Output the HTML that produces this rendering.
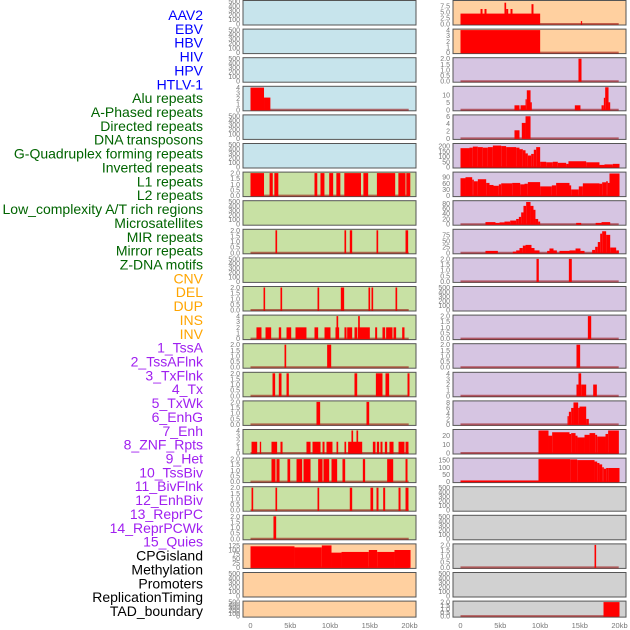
<!DOCTYPE html>
<html><head><meta charset="utf-8"><style>
html,body{margin:0;padding:0;background:#fff;width:630px;height:630px;overflow:hidden}
svg{display:block;font-family:"Liberation Sans",sans-serif}
</style></head><body>
<svg id="chart" width="630" height="630" viewBox="0 0 630 630"></svg>
<script>
const labelNames=["AAV2","EBV","HBV","HIV","HPV","HTLV-1","Alu repeats","A-Phased repeats","Directed repeats","DNA transposons","G-Quadruplex forming repeats","Inverted repeats","L1 repeats","L2 repeats","Low_complexity A/T rich regions","Microsatellites","MIR repeats","Mirror repeats","Z-DNA motifs","CNV","DEL","DUP","INS","INV","1_TssA","2_TssAFlnk","3_TxFlnk","4_Tx","5_TxWk","6_EnhG","7_Enh","8_ZNF_Rpts","9_Het","10_TssBiv","11_BivFlnk","12_EnhBiv","13_ReprPC","14_ReprPCWk","15_Quies","CPGisland","Methylation","Promoters","ReplicationTiming","TAD_boundary"];
const labelColors=["#0000ff","#0000ff","#0000ff","#0000ff","#0000ff","#0000ff","#006400","#006400","#006400","#006400","#006400","#006400","#006400","#006400","#006400","#006400","#006400","#006400","#006400","#ffa500","#ffa500","#ffa500","#ffa500","#ffa500","#a020f0","#a020f0","#a020f0","#a020f0","#a020f0","#a020f0","#a020f0","#a020f0","#a020f0","#a020f0","#a020f0","#a020f0","#a020f0","#a020f0","#a020f0","#000","#000","#000","#000","#000"];
const xTicks=[0,5,10,15,20];
const xTickLabels=["0","5kb","10kb","15kb","20kb"];
const ticksEmpty=["0","100","200","300","400","500"];
const ticks2=["0.0","0.5","1.0","1.5","2.0"];
const ticks4=["0","1","2","3","4"];
// segments: [startKb, endKb, value]
const segL3=[[0,1.7,4],[1.7,2.5,2.2]];
const segL6=[[0,1.7,2],[2.4,2.8,2],[3.0,3.5,2],[8.05,8.4,2],[8.8,9.3,2],[9.9,10.4,2],[10.8,11.3,2],[11.8,13.9,2],[14.2,14.8,2],[15.9,18.2,2],[18.6,19.5,2],[19.6,20.1,2]];
const segL8=[[3.14,3.35,2],[11.82,12.03,2],[12.49,12.79,2],[15.85,16.06,2],[19.5,19.83,2]];
const segL10=[[1.64,1.84,2],[3.77,3.98,2],[8.43,8.64,2],[11.36,11.78,2],[14.84,15.05,2],[15.22,15.43,2],[18.24,18.45,2]];
const segL11=[[0.75,1.38,2],[1.89,2.6,2],[3.56,3.86,2],[4.53,5.12,2],[5.66,7.04,2],[8.05,8.51,2],[9.31,10.06,2],[10.69,11.15,2],[10.82,11.03,4],[11.82,12.08,2],[12.16,12.79,2],[13.08,13.42,2],[13.5,15.01,2],[13.54,13.75,4],[15.68,15.93,2],[16.6,16.94,2],[17.06,17.86,2],[17.99,18.32,2],[19.08,19.37,2]];
const segL12=[[4.28,4.49,2],[9.64,10.15,2]];
const segL13=[[2.77,3.1,2],[3.56,3.9,2],[4.53,4.82,2],[13.08,13.42,2],[15.77,16.6,2],[16.98,17.44,2],[19.75,20.0,2]];
const segL14=[[8.3,8.76,2],[14.59,14.93,2]];
const segL15=[[0.13,0.84,2],[1.17,1.34,2],[2.64,3.35,2],[3.77,4.03,2],[7.04,7.55,2],[7.8,8.81,2],[9.06,9.31,2],[9.56,10.31,2],[10.82,11.03,2],[11.82,12.03,2],[12.28,14.05,2],[12.7,12.91,4],[13.33,13.54,4],[15.39,15.72,2],[15.89,16.18,2],[16.35,16.6,2],[16.9,17.19,2],[17.48,17.99,2],[18.62,19.37,2],[19.5,19.87,2]];
const segL16=[[2.64,3.14,2],[3.27,3.65,2],[4.65,4.99,2],[5.79,6.5,2],[6.67,7.55,2],[8.51,9.06,2],[9.18,9.9,2],[10.19,10.9,2],[11.57,11.91,2],[14.13,14.42,2],[17.19,17.95,2],[19.5,19.75,2]];
const segL17=[[0.13,0.34,2],[3.14,3.35,2],[8.43,8.64,2],[12.49,12.79,2],[15.09,15.43,2],[15.85,16.1,2],[16.69,16.94,2],[18.62,18.87,2],[19.5,19.87,2]];
const segL18=[[2.89,3.23,2]];
const segL19=[[0,5.53,120],[5.53,8.97,114],[8.97,10.19,125],[10.19,11.45,84],[11.45,14.88,88],[14.88,15.93,99],[15.93,18.11,88],[18.11,20.13,99]];
const segR0=[[0,10.02,4.3],[2.52,2.77,6.2],[3.02,3.27,6.2],[5.53,5.74,8.8],[5.74,6.0,6.2],[6.29,6.54,6.2],[8.93,9.18,8.2],[15.14,15.3,1.2]];
const segR1=[[0,10.02,4]];
const segR2=[[14.84,15.22,2]];
const segR3=[[6.79,7.42,3],[7.55,8.18,3],[8.18,8.34,7],[8.34,8.81,13],[8.81,8.97,5],[14.38,15.09,3],[17.74,18.03,3],[18.03,18.2,8],[18.2,18.62,15],[18.62,18.83,5]];
const segR4=[[6.79,7.42,2.2],[7.71,8.18,4.2],[8.18,8.81,6]];
const segR5=[[0,1.13,180],[1.13,1.55,185],[1.55,2.18,195],[2.18,2.81,190],[2.81,3.44,185],[3.44,4.07,190],[4.07,5.12,205],[5.12,5.74,200],[5.74,7.0,190],[7.0,7.42,185],[7.42,7.84,170],[7.84,8.18,160],[8.18,8.47,130],[8.47,8.89,110],[8.89,9.22,125],[9.22,9.52,165],[9.52,10.02,190],[10.02,10.78,50],[10.78,11.61,45],[11.61,12.24,50],[12.24,13.29,40],[13.29,13.58,30],[13.58,15.81,55],[15.81,17.48,45],[17.48,18.11,20],[18.11,19.16,25],[19.16,20.0,30]];
const segR6=[[0,0.63,85],[0.63,1.47,90],[1.47,1.68,78],[1.68,2.18,70],[2.18,3.23,80],[3.23,3.65,62],[3.65,4.15,52],[4.15,4.82,48],[4.82,5.12,55],[5.12,6.5,60],[6.5,7.51,62],[7.51,8.05,55],[8.05,8.47,58],[8.47,10.02,66],[10.02,11.49,45],[11.49,12.03,50],[12.03,13.71,62],[13.71,13.92,50],[13.92,14.88,30],[14.88,15.39,45],[15.39,17.48,60],[17.48,17.82,58],[17.82,18.32,65],[18.32,18.53,70],[18.53,18.74,62],[18.74,20.0,108]];
const segR7=[[3.14,4.4,8],[4.4,4.91,5],[4.91,5.53,7],[5.53,6.25,10],[6.25,7.0,14],[7.0,7.34,20],[7.34,7.63,28],[7.63,7.92,45],[7.92,8.26,70],[8.26,8.81,85],[8.81,9.18,70],[9.18,9.43,55],[9.43,9.77,20],[9.77,10.02,10],[14.55,15.18,5],[17.0,17.74,5],[17.74,18.83,8]];
const segR8=[[3.14,4.7,8],[6.58,7.0,5],[7.0,7.42,10],[7.42,7.84,20],[7.84,8.18,30],[8.18,8.93,33],[8.93,9.31,20],[9.31,9.94,10],[10.9,11.19,8],[11.19,11.7,18],[11.7,12.12,10],[12.45,13.71,8],[13.71,14.47,10],[14.47,15.09,18],[15.09,15.6,8],[16.56,16.94,12],[16.94,17.27,25],[17.27,17.57,45],[17.57,17.82,80],[17.82,18.32,90],[18.32,18.83,75],[18.83,19.58,22],[19.58,19.92,10]];
const segR9=[[9.56,9.85,2],[13.63,14.0,2]];
const segR11=[[16.02,16.44,2]];
const segR12=[[14.59,15.05,2]];
const segR13=[[14.59,14.84,2],[14.84,15.18,4],[15.18,15.81,2],[16.69,17.15,2]];
const segR14=[[13.46,13.63,3],[13.63,13.92,4.6],[13.92,14.21,6],[14.21,14.8,8],[14.8,14.97,6],[14.97,15.81,6.5],[15.81,16.14,2]];
const segR15=[[9.81,11.07,26],[11.07,11.53,20],[11.53,13.71,24],[13.71,13.92,22],[13.92,14.47,23],[14.47,14.72,20],[14.72,15.6,18],[15.6,16.23,21],[16.23,16.94,23],[16.94,17.19,21],[17.19,18.24,19],[18.24,18.57,22],[18.57,19.92,26]];
const segR16=[[0,9.81,8],[9.81,13.79,157],[13.79,14.68,155],[14.68,16.86,150],[16.86,17.19,140],[17.19,17.48,130],[17.48,17.82,120],[17.82,18.03,100],[18.03,18.32,90],[18.32,18.66,95],[18.66,20.0,95]];
const segR19=[[16.86,17.06,2]];
const segR21=[[17.99,20.0,2]];

const BLUE="#c7e4ec",GREEN="#c8e1a4",ORANGE="#ffd0a0",PURPLE="#d6c5e2",GRAY="#d1d1d1";
const panels=[
[0,0,BLUE,500,ticksEmpty,null],[0,1,BLUE,500,ticksEmpty,null],[0,2,BLUE,500,ticksEmpty,null],
[0,3,BLUE,4.05,ticks4,segL3],[0,4,BLUE,500,ticksEmpty,null],[0,5,BLUE,500,ticksEmpty,null],
[0,6,GREEN,2,ticks2,segL6],[0,7,GREEN,500,ticksEmpty,null],[0,8,GREEN,2,ticks2,segL8],
[0,9,GREEN,500,ticksEmpty,null],[0,10,GREEN,2,ticks2,segL10],[0,11,GREEN,4,ticks4,segL11],
[0,12,GREEN,2,ticks2,segL12],[0,13,GREEN,2,ticks2,segL13],[0,14,GREEN,2,ticks2,segL14],
[0,15,GREEN,4,ticks4,segL15],[0,16,GREEN,2,ticks2,segL16],[0,17,GREEN,2,ticks2,segL17],
[0,18,GREEN,2,ticks2,segL18],[0,19,ORANGE,128,["0","25","50","75","100","125"],segL19],
[0,20,ORANGE,500,ticksEmpty,null],[0,21,ORANGE,500,ticksEmpty,null],
[1,0,ORANGE,9.3,["0.0","2.5","5.0","7.5"],segR0],[1,1,ORANGE,4,ticks4,segR1],
[1,2,PURPLE,2,ticks2,segR2],[1,3,PURPLE,15,["0","5","10"],segR3],[1,4,PURPLE,6.1,["0","2","4","6"],segR4],
[1,5,PURPLE,215,["0","50","100","150","200"],segR5],[1,6,PURPLE,110,["0","30","60","90"],segR6],
[1,7,PURPLE,86,["0","20","40","60","80"],segR7],[1,8,PURPLE,94,["0","25","50","75"],segR8],
[1,9,PURPLE,2,ticks2,segR9],[1,10,PURPLE,500,ticksEmpty,null],[1,11,PURPLE,2,ticks2,segR11],
[1,12,PURPLE,2,ticks2,segR12],[1,13,PURPLE,4,ticks4,segR13],[1,14,PURPLE,8.2,["0","2","4","6","8"],segR14],
[1,15,PURPLE,26,["0","10","20"],segR15],[1,16,PURPLE,157,["0","50","100","150"],segR16],
[1,17,GRAY,500,ticksEmpty,null],[1,18,GRAY,500,ticksEmpty,null],[1,19,GRAY,2,ticks2,segR19],
[1,20,GRAY,500,ticksEmpty,null],[1,21,GRAY,2,ticks2,segR21]
];

const NS="http://www.w3.org/2000/svg";
const svg=document.getElementById('chart');
function mk(tag,attrs,parent){const e=document.createElementNS(NS,tag);for(const k in attrs)e.setAttribute(k,attrs[k]);(parent||svg).appendChild(e);return e;}
const colLeft=[243,453],boxW=173,PX=7.95;
function rowTop(r){return 0.5+r*28.6;}
function rowH(r){return r===21?16:24.5;}
function xScale(c,kb){return colLeft[c]+7.5+kb*PX;}

labelNames.forEach((n,i)=>{
  const t=mk('text',{x:203,y:15+i*13.86+5,'text-anchor':'end','font-size':14,fill:labelColors[i]});
  
  
  t.textContent=n;
});

panels.forEach(p=>{
  const [c,r,bg,ymax,ticks,segs]=p;
  const top=rowTop(r),h=rowH(r),L=colLeft[c];
  const g=mk('g',{});
  
  
  const bx=mk('rect',{x:L,y:top,width:boxW,height:h,fill:bg,stroke:'#555','stroke-width':1},g);
  
  
  const yS=v=>top+h-1-v/ymax*(h-2);
  ticks.forEach(tl=>{
    const v=parseFloat(tl);
    const t=mk('text',{x:L-3,y:yS(v)+2.5,'text-anchor':'end','font-size':7,fill:'#777'},g);
    
    
    t.textContent=tl;
  });
  if(segs){
    const bl=mk('line',{x1:xScale(c,0),x2:xScale(c,19.9),y1:yS(0),y2:yS(0),stroke:'rgba(150,0,0,0.55)','stroke-width':2},g);
    
    
    segs.forEach(s=>{
      const x1=xScale(c,s[0]),x2=xScale(c,s[1]),y=yS(s[2]);
      const b=mk('rect',{x:x1,y:y,width:Math.max(1,x2-x1),height:yS(0)-y+0.5,fill:'#ff0000'},g);
      
      
    });
  }
});

[0,1].forEach(c=>{
  xTicks.forEach((v,i)=>{
    const t=mk('text',{x:xScale(c,v),y:628,'text-anchor':'middle','font-size':7.5,fill:'#777'});
    
    
    t.textContent=xTickLabels[i];
  });
});
</script>
</body></html>
